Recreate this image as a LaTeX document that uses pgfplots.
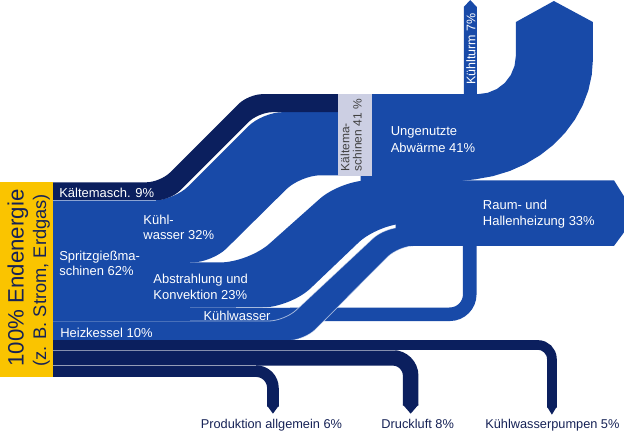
\documentclass[border=0pt]{standalone}
\usepackage{fontspec}
\setmainfont{Liberation Sans}
\usepackage{pgfplots}
\pgfplotsset{compat=1.18}
\definecolor{dk}{RGB}{11,31,94}
\definecolor{md}{RGB}{24,74,168}
\definecolor{yl}{RGB}{250,196,0}
\definecolor{lav}{RGB}{204,207,227}
\definecolor{navytxt}{RGB}{22,34,86}
\tikzset{
  lab/.style={font=\fontsize{13}{15}\selectfont, text=white, anchor=base west, inner sep=0pt},
  blab/.style={font=\fontsize{12.8}{15}\selectfont, text=navytxt, anchor=base, inner sep=0pt},
  sep/.style={draw=white, draw opacity=0.5, line width=0.8bp}
}
\begin{document}
\begin{tikzpicture}
\begin{axis}[width=624bp, height=442bp, scale only axis,
  xmin=0, xmax=624, ymin=0, ymax=442, y dir=reverse,
  hide axis, clip=false]

% Kuehlwasser 7% (to heating)
\addplot[draw=md, line width=13.5bp, rounded corners=20pt] coordinates {(10,324.75) (469,324.75) (469,240)};
% Heizkessel 10%
\addplot[fill=md, draw=white, draw opacity=0.6, line width=0.8bp, rounded corners=16pt] coordinates {
 (10,331.5) (284,331.5) (384,238) (450,238) (450,256.5) (398,256.5) (304,351) (10,351)} --cycle;
% Abstrahlung und Konvektion 23%
\addplot[fill=md, draw=none, rounded corners=28pt] coordinates {
 (10,273) (248,273) (340,191) (450,191) (450,234) (378,234) (290,318) (10,318)} --cycle;
% Kuehlwasser 32%
\addplot[fill=md, draw=none, rounded corners=20pt] coordinates {
 (10,211) (174,211) (262,123) (360,123) (360,186) (300,186) (212,273) (10,273)} --cycle;
% Kaeltemaschinen 9%
\addplot[fill=dk, draw=none, rounded corners=14pt] coordinates {
 (10,193) (160,193) (248,105) (355,105) (355,123) (258,123) (170,211) (10,211)} --cycle;
% Spritzgiessmaschinen block
\addplot[fill=md, draw=none] coordinates {(10,211) (190,211) (190,331) (10,331)} --cycle;
% Raum- und Hallenheizung 33%
\addplot[fill=md, draw=none] coordinates {(395,191) (613,191) (623,207) (623,243) (613,256.5) (395,256.5)} --cycle;
% Ungenutzte Abwaerme 41%
\addplot[fill=md, draw=none] coordinates {
 (360,105) (477,105) (486.8,103.7) (496,99.9) (503.9,93.9) (509.9,86) (513.7,76.8) (515,67)
 (515,33) (553,12) (592,33) (592,70)
 (590.8,85.8) (587.4,101.3) (581.7,116.3) (573.9,130.5) (564.1,143.7) (552.5,155.6)
 (539.2,166) (524.5,174.8) (508.7,181.8) (491.9,186.9) (474.6,190) (457,192) (360,193)} --cycle;
% Kuehlturm 7%
\addplot[fill=md, draw=none] coordinates {(463,108) (463,18) (469.5,11) (476,18) (476,108)} --cycle;
% Kaeltemaschinen box
\addplot[fill=lav, draw=none] coordinates {(337,105) (371,105) (371,187) (337,187)} --cycle;

% bottom bands
\addplot[draw=dk, line width=9.7bp, rounded corners=14pt] coordinates {(10,355.45) (551,355.45) (551,418)};
\addplot[fill=dk, draw=none] coordinates {(546.15,417) (551,425) (555.85,417)} --cycle;
\addplot[draw=dk, line width=15.5bp, rounded corners=18pt] coordinates {(10,368.25) (410,368.25) (410,416)};
\addplot[fill=dk, draw=none] coordinates {(402.25,415) (410,424) (417.75,415)} --cycle;
\addplot[draw=dk, line width=11.6bp, rounded corners=17pt] coordinates {(10,381.5) (272.5,381.5) (272.5,417)};
\addplot[fill=dk, draw=none] coordinates {(266.7,416) (272.5,424) (278.3,416)} --cycle;

% separator lines
\addplot[sep] coordinates {(53,211.3) (156,211.3)};
\addplot[sep] coordinates {(53,360.6) (394,360.6)};
\addplot[sep] coordinates {(53,376.2) (256,376.2)};
\addplot[sep] coordinates {(236,318.3) (290,318.3)};

% yellow source box
\addplot[fill=yl, draw=none] coordinates {(0,193) (53,193) (53,387.3) (0,387.3)} --cycle;

% labels
\node[rotate=90, anchor=base west, inner sep=0pt, text=navytxt, font=\fontsize{22.3}{24}\selectfont] at (23.5,377) {100\% Endenergie};
\node[rotate=90, anchor=base west, inner sep=0pt, text=navytxt, font=\fontsize{18.3}{20}\selectfont] at (46,377) {(z. B. Strom, Erdgas)};

\node[lab] at (59,208) {Kältemasch. 9\%};
\node[lab] at (59,271) {Spritzgießma-};
\node[lab] at (59,286.5) {schinen 62\%};
\node[lab] at (143,235) {Kühl-};
\node[lab] at (143,250.5) {wasser 32\%};
\node[lab] at (153,294.5) {Abstrahlung und};
\node[lab] at (153,310) {Konvektion 23\%};
\node[lab] at (203,331) {Kühlwasser};
\node[lab] at (60,348) {Heizkessel 10\%};
\node[lab] at (390,146.5) {Ungenutzte};
\node[lab] at (390,163.5) {Abwärme 41\%};
\node[lab] at (482,220) {Raum- und};
\node[lab] at (482,236) {Hallenheizung 33\%};

\node[rotate=90, anchor=base west, inner sep=0pt, text=white, font=\fontsize{12.5}{14}\selectfont] at (474.6,96) {Kühlturm 7\%};
\node[rotate=90, anchor=base west, inner sep=0pt, text=black!75, font=\fontsize{12}{14}\selectfont] at (348.8,182) {Kältema-};
\node[rotate=90, anchor=base west, inner sep=0pt, text=black!75, font=\fontsize{12}{14}\selectfont] at (361,182) {schinen 41 \%};

\node[blab] at (271,438.5) {Produktion allgemein 6\%};
\node[blab] at (417,438.5) {Druckluft 8\%};
\node[blab] at (551.5,438.5) {Kühlwasserpumpen 5\%};

\end{axis}
\end{tikzpicture}
\end{document}
